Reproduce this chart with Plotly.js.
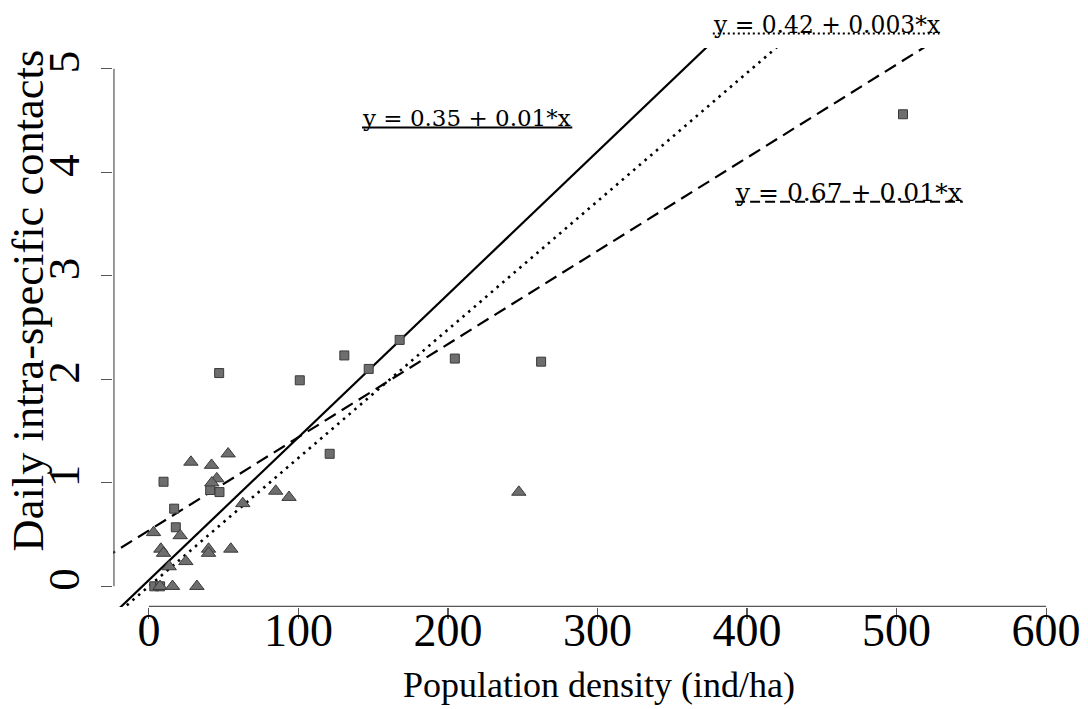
<!DOCTYPE html>
<html>
<head>
<meta charset="utf-8">
<script src="https://cdn.plot.ly/plotly-3.0.1.min.js"></script>
<style>html,body{margin:0;padding:0;background:#fff;}#chart{width:1088px;height:709px;}</style>
</head>
<body>
<div id="chart"></div>
<script>
// Squares
const squareX = [504.3, 262.3, 204.6, 167.7, 147.0, 130.7, 100.9, 47.0, 120.9, 41.0, 47.2, 9.8, 16.9, 18.0, 3.6, 7.5];
const squareY = [4.56, 2.17, 2.20, 2.38, 2.10, 2.23, 1.99, 2.06, 1.28, 0.93, 0.91, 1.01, 0.75, 0.57, 0.0, 0.0];
// Triangles
const triX = [247.4, 93.7, 84.8, 62.8, 53.0, 41.9, 28.1, 45.4, 42.1, 3.1, 20.9, 8.0, 9.8, 39.9, 39.9, 54.8, 24.7, 13.6, 7.5, 15.8, 32.1];
const triY = [0.91, 0.86, 0.92, 0.80, 1.28, 1.17, 1.20, 1.04, 1.00, 0.52, 0.49, 0.36, 0.32, 0.36, 0.32, 0.36, 0.24, 0.19, 0.0, 0.0, 0.0];
// Fitted lines (intercept, slope) as drawn
const lineNames = ["solid fit", "dotted fit", "dashed fit"];
const intercepts = [0.06, 0.0, 0.54];
const slopes = [0.0138, 0.0124, 0.009];
const lineExtent = [-30, 630];
// Equation labels
const eqLabels = ["y = 0.35 + 0.01*x", "y = 0.42 + 0.003*x", "y = 0.67 + 0.01*x"];
const xTitle = "Population density (ind/ha)";
const yTitle = "Daily intra-specific contacts";
const xTicks = [0, 100, 200, 300, 400, 500, 600];
const yTicks = [0, 1, 2, 3, 4, 5];

const lineStyles = [
  {dash: "solid", width: 2.2},
  {dash: "2.5px,5px", width: 2.6},
  {dash: "13px,7px", width: 2.2}
];

const traces = [];
for (let i = 0; i < intercepts.length; i++) {
  traces.push({
    x: lineExtent,
    y: lineExtent.map(v => intercepts[i] + slopes[i] * v),
    mode: "lines", type: "scatter", name: lineNames[i],
    line: {color: "#000", width: lineStyles[i].width, dash: lineStyles[i].dash},
    hoverinfo: "skip", showlegend: false
  });
}
traces.push({
  x: squareX, y: squareY, mode: "markers", type: "scatter", name: "squares",
  marker: {symbol: "square", size: 9, color: "#6e6e6e", line: {color: "#3a3a3a", width: 1}},
  showlegend: false, cliponaxis: false
});
traces.push({
  x: triX, y: triY, mode: "markers", type: "scatter", name: "triangles",
  marker: {symbol: "triangle-up", size: 12.5, color: "#6e6e6e", line: {color: "#3a3a3a", width: 1}},
  showlegend: false, cliponaxis: false
});

const serif = "Liberation Serif, Times New Roman, serif";
const axisCol = "#555";

// label / underline positions (paper)
const eqPos = [
  {x: 0.255, y: 0.875, size: 23, ux0: 0.257, ux1: 0.474, uy: 0.858, dash: "solid"},
  {x: 0.617, y: 1.041, size: 23.4, ux0: 0.619, ux1: 0.853, uy: 1.026, dash: "2px,3px"},
  {x: 0.640, y: 0.741, size: 25, ux0: 0.642, ux1: 0.877, uy: 0.725, dash: "10px,5px"}
];

const annotations = eqLabels.map((t, i) => ({
  text: t, xref: "paper", yref: "paper", x: eqPos[i].x, y: eqPos[i].y,
  xanchor: "left", yanchor: "middle", showarrow: false,
  font: {family: "DejaVu Serif, serif", size: eqPos[i].size, color: "#000"}
}));
annotations.push({
  text: xTitle, xref: "paper", yref: "paper", x: 0.5015, y: -0.14,
  xanchor: "center", yanchor: "middle", showarrow: false,
  font: {family: serif, size: 36, color: "#000"}
});
annotations.push({
  text: yTitle, xref: "paper", yref: "paper", x: -0.088, y: 0.548, textangle: -90,
  xanchor: "center", yanchor: "middle", showarrow: false,
  font: {family: serif, size: 44.5, color: "#000"}
});

const shapes = eqPos.map(p => ({
  type: "line", xref: "paper", yref: "paper", x0: p.ux0, x1: p.ux1, y0: p.uy, y1: p.uy,
  line: {color: "#000", width: 2, dash: p.dash}
}));
// R-style axis lines spanning only the tick range
shapes.push({type: "line", xref: "x", yref: "paper", x0: xTicks[0], x1: xTicks[xTicks.length-1], y0: 0.001, y1: 0.001,
  line: {color: axisCol, width: 1.2}});
shapes.push({type: "line", xref: "paper", yref: "y", x0: 0.001, x1: 0.001, y0: yTicks[0], y1: yTicks[yTicks.length-1],
  line: {color: axisCol, width: 1.2}});

const layout = {
  width: 1088, height: 709,
  margin: {l: 113, r: 6, t: 48, b: 102, pad: 0},
  paper_bgcolor: "#fff", plot_bgcolor: "#fff",
  showlegend: false,
  xaxis: {
    range: [-24, 624], tickvals: xTicks, ticktext: xTicks.map(String),
    showgrid: false, zeroline: false, showline: false,
    ticks: "outside", ticklen: 11, tickwidth: 1.2, tickcolor: axisCol,
    ticklabelstandoff: -28,
    tickfont: {family: serif, size: 46, color: "#000"},
    automargin: false
  },
  yaxis: {
    range: [-0.2, 5.2], tickvals: yTicks, ticktext: yTicks.map(String),
    showgrid: false, zeroline: false, showline: false,
    ticks: "outside", ticklen: 11, tickwidth: 1.2, tickcolor: axisCol,
    tickangle: -90, ticklabelstandoff: 4,
    tickfont: {family: serif, size: 45, color: "#000"},
    automargin: false
  },
  shapes: shapes,
  annotations: annotations
};

Plotly.newPlot("chart", traces, layout, {staticPlot: true, displayModeBar: false});
</script>
</body>
</html>
